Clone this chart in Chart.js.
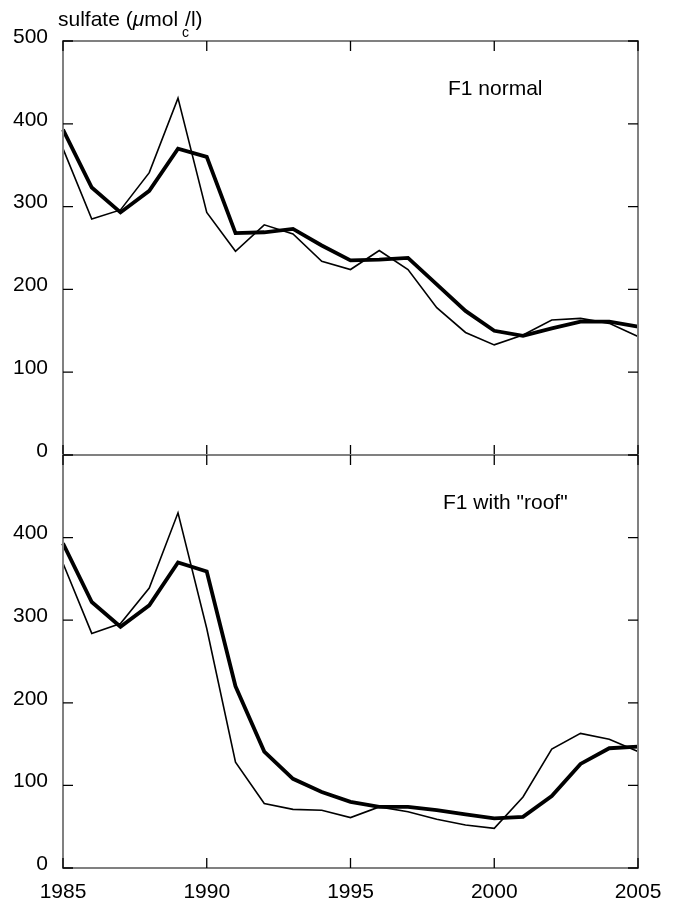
<!DOCTYPE html>
<html>
<head>
<meta charset="utf-8">
<script src="https://cdn.jsdelivr.net/npm/chart.js@4/dist/chart.umd.min.js"></script>
<style>
  body { margin: 0; background: #fff; }
  #Lienzo { position: relative; width: 678px; height: 902px; }
  #Lienzo canvas { position: absolute; left: 0; }
  #GraficoNormal { top: 0; }
  #GraficoTecho  { top: 450px; }
</style>
</head>
<body>
<div id="Lienzo">
  <canvas id="GraficoNormal" width="678" height="460"></canvas>
  <canvas id="GraficoTecho" width="678" height="452"></canvas>
</div>
<script>
// Datos
const Anios = [1985, 1986, 1987, 1988, 1989, 1990, 1991, 1992, 1993, 1994, 1995,
               1996, 1997, 1998, 1999, 2000, 2001, 2002, 2003, 2004, 2005];

// F1 normal
const NormalGruesa = [393, 323, 293, 319, 370, 360, 268, 269, 273, 253, 235,
                      236, 238, 206, 174, 150, 144, 153, 161, 161, 155];
const NormalFina   = [370, 285, 296, 341, 431, 293, 246, 278, 267, 234, 224,
                      247, 224, 178, 148, 133, 145, 163, 165, 159, 143];

// F1 with "roof"
const TechoGruesa  = [393, 322, 292, 318, 370, 359, 220, 141, 108, 92, 80,
                      74, 74, 70, 65, 60, 62, 87, 126, 145, 147];
const TechoFina    = [369, 284, 296, 339, 430, 290, 128, 78, 71, 70, 61,
                      74, 68, 59, 52, 48, 86, 144, 163, 156, 141];

const TicksX         = [1985, 1990, 1995, 2000, 2005];
const TicksYNormal   = [0, 100, 200, 300, 400, 500];
const TicksYTecho    = [0, 100, 200, 300, 400];

const Fuente = '"Liberation Sans", Arial, Helvetica, sans-serif';

const Puntos = (Serie) => Anios.map((A, I) => ({ x: A, y: Serie[I] }));

// Marco gris con marcas negras hacia adentro en los cuatro lados
const MarcoEjes = {
  id: 'MarcoEjes',
  afterDatasetsDraw(Grafico) {
    const Ctx = Grafico.ctx;
    const { left, right, top, bottom } = Grafico.chartArea;
    const EjeX = Grafico.scales.x;
    const EjeY = Grafico.scales.y;
    const Largo = 10;

    Ctx.save();
    Ctx.strokeStyle = '#808080';
    Ctx.lineWidth = 2;
    Ctx.strokeRect(left, top, right - left, bottom - top);

    Ctx.strokeStyle = '#000';
    Ctx.lineWidth = 1.3;
    Ctx.beginPath();
    TicksYNormal.forEach(V => {
      const Y = EjeY.getPixelForValue(V);
      Ctx.moveTo(left, Y);  Ctx.lineTo(left + Largo, Y);
      Ctx.moveTo(right, Y); Ctx.lineTo(right - Largo, Y);
    });
    TicksX.forEach(V => {
      const X = EjeX.getPixelForValue(V);
      Ctx.moveTo(X, top);    Ctx.lineTo(X, top + Largo);
      Ctx.moveTo(X, bottom); Ctx.lineTo(X, bottom - Largo);
    });
    Ctx.stroke();
    Ctx.restore();
  }
};

// Textos del panel (titulo del eje y etiqueta del caso)
const EtiquetaPanel = {
  id: 'EtiquetaPanel',
  afterDraw(Grafico, Args, Opc) {
    const Ctx = Grafico.ctx;
    Ctx.save();
    Ctx.fillStyle = '#000';
    Ctx.textBaseline = 'alphabetic';
    Ctx.textAlign = 'left';
    Ctx.font = `21px ${Fuente}`;
    Ctx.fillText(Opc.Texto, Opc.X, Opc.Y);

    if (Opc.ConTitulo) {
      let X = 58;
      const Y = 26;
      Ctx.font = `21px ${Fuente}`;
      Ctx.fillText('sulfate (', X, Y);
      X += Ctx.measureText('sulfate (').width;
      Ctx.font = `italic 21px ${Fuente}`;
      Ctx.fillText('\u03BC', X, Y);
      X += Ctx.measureText('\u03BC').width;
      Ctx.font = `21px ${Fuente}`;
      Ctx.fillText('mol', X, Y);
      X += Ctx.measureText('mol').width;
      Ctx.font = `14px ${Fuente}`;
      Ctx.fillText('c', X + 4, Y + 11);
      X += 7;
      Ctx.font = `21px ${Fuente}`;
      Ctx.fillText('/l)', X, Y);
    }
    Ctx.restore();
  }
};

function CrearGrafico(IdCanvas, Gruesa, Fina, TicksY, Config) {
  return new Chart(document.getElementById(IdCanvas).getContext('2d'), {
    type: 'line',
    data: {
      datasets: [
        {
          data: Puntos(Fina),
          borderColor: '#000',
          borderWidth: 1.6,
          pointRadius: 0,
          tension: 0,
          clip: 4
        },
        {
          data: Puntos(Gruesa),
          borderColor: '#000',
          borderWidth: 3.8,
          pointRadius: 0,
          tension: 0,
          clip: 4
        }
      ]
    },
    options: {
      responsive: false,
      animation: false,
      layout: { padding: Config.Relleno },
      plugins: {
        legend: { display: false },
        tooltip: { enabled: false },
        EtiquetaPanel: Config.Etiqueta
      },
      scales: {
        x: {
          type: 'linear',
          min: 1985,
          max: 2005,
          display: Config.MostrarX,
          grid: { display: false, drawTicks: false },
          border: { display: false },
          afterBuildTicks: Eje => { Eje.ticks = TicksX.map(V => ({ value: V })); },
          afterFit: Eje => {
            Eje.height = Config.MostrarX ? 34 : 0;
            Eje.paddingLeft = 0;
            Eje.paddingRight = 0;
          },
          ticks: {
            padding: 12,
            color: '#000',
            font: { family: Fuente, size: 21 },
            callback: V => String(V)
          }
        },
        y: {
          min: 0,
          max: 500,
          grid: { display: false, drawTicks: false },
          border: { display: false },
          afterBuildTicks: Eje => { Eje.ticks = TicksY.map(V => ({ value: V })); },
          afterFit: Eje => {
            Eje.width = 63;
            Eje.paddingTop = 0;
            Eje.paddingBottom = 0;
          },
          ticks: {
            padding: 15,
            color: '#000',
            labelOffset: -4,
            font: { family: Fuente, size: 21 },
            callback: V => String(V)
          }
        }
      }
    },
    plugins: [MarcoEjes, EtiquetaPanel]
  });
}

CrearGrafico('GraficoNormal', NormalGruesa, NormalFina, TicksYNormal, {
  Relleno: { top: 41, right: 40, bottom: 5, left: 0 },
  MostrarX: false,
  Etiqueta: { Texto: 'F1 normal', X: 448, Y: 95, ConTitulo: true }
});

CrearGrafico('GraficoTecho', TechoGruesa, TechoFina, TicksYTecho, {
  Relleno: { top: 5, right: 40, bottom: 0, left: 0 },
  MostrarX: true,
  Etiqueta: { Texto: 'F1 with "roof"', X: 443, Y: 59, ConTitulo: false }
});
</script>
</body>
</html>
